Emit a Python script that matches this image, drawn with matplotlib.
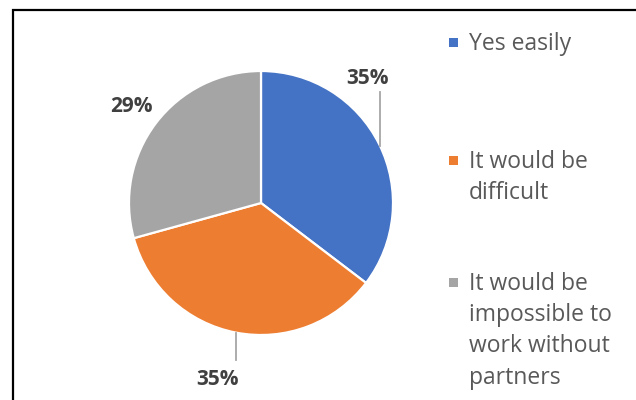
import matplotlib.pyplot as plt
from matplotlib.patches import Rectangle
import numpy as np

labels = ['Yes easily', 'It would be\ndifficult', 'It would be\nimpossible to\nwork without\npartners']
values = [35, 35, 29]
colors = ['#4472C4', '#ED7D31', '#A5A5A5']

W, H = 636, 400
fig = plt.figure(figsize=(W / 100, H / 100), dpi=100)

# pie centre / radius in pixels
cx, cy, r = 261, 197, 132
ax = fig.add_axes([(cx - r) / W, (cy - r) / H, 2 * r / W, 2 * r / H])
wedges, _ = ax.pie(values, colors=colors, startangle=90, counterclock=False,
                   radius=1, wedgeprops=dict(edgecolor='white', linewidth=1.6))
ax.set_xlim(-1, 1)
ax.set_ylim(-1, 1)
ax.set_aspect('equal')
ax.axis('off')

pct = [f'{round(v / sum(values) * 100)}%' for v in values]
# label spots (x, y) and where the leader line sits (x or None)
lab_xy = [(0.81, 0.94), (-0.33, -1.335), (-0.98, 0.73)]
lead_x = [0.902, -0.19, None]
lead_top = [0.84, -1.19, None]
for p, (tx, ty), lx, lt in zip(pct, lab_xy, lead_x, lead_top):
    ax.text(tx, ty, p, ha='center', va='center', fontsize=15, fontweight='bold',
            color='#404040', family='Open Sans', clip_on=False)
    if lx is not None:
        edge = np.sqrt(1 - lx ** 2) * (1 if lt > 0 else -1)
        ax.plot([lx, lx], [edge, lt], color='#A6A6A6', lw=1.3, clip_on=False)

# legend drawn by hand so the entry gaps can differ
leg_y = [42, 160, 282]
for lab, c, y in zip(labels, colors, leg_y):
    fig.patches.append(Rectangle((449 / W, 1 - (y + 5) / H), 9 / W, 9 / H,
                                 transform=fig.transFigure, facecolor=c, edgecolor='none'))
    fig.text(469 / W, 1 - (y - 10) / H, lab, ha='left', va='top', fontsize=16.5,
             color='#595959', family='Open Sans', linespacing=1.4)

# chart frame (right and bottom run off the image)
fig.patches.append(Rectangle((12.5 / W, -0.1), 1.2, 1.1 - 10 / H, transform=fig.transFigure,
                             facecolor='none', edgecolor='black', lw=1.6, clip_on=False))

fig.savefig('out.png', dpi=100)
